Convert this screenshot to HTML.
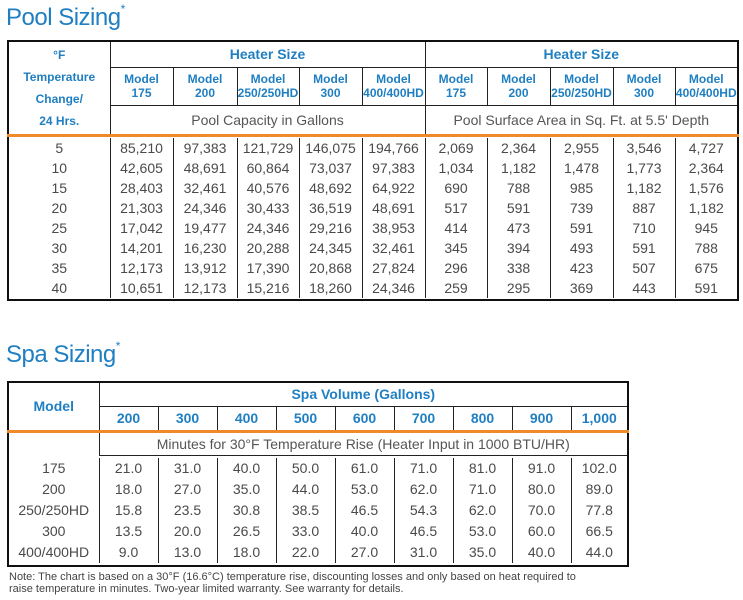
<!DOCTYPE html>
<html><head><meta charset="utf-8"><style>
body{margin:0;width:743px;height:600px;background:#fff;position:relative;overflow:hidden;font-family:"Liberation Sans",sans-serif;}
.t{position:absolute;left:7px;border-collapse:collapse;table-layout:fixed;border:2px solid #111;}
.t td{border:1px solid #222;padding:0;text-align:center;vertical-align:middle;}
.h{color:#1f7fc2;font-weight:bold;font-size:12px;line-height:14px;}
.g{color:#555;font-size:14px;}
.d td{border-top:none;border-bottom:none;color:#4a4a4a;font-size:14px;height:20px;line-height:20px;}
.s .d td{height:21px;line-height:21px;}
.o td{border-bottom:3px solid #f0892a;}
.title{position:absolute;left:6px;color:#1f7fc2;font-size:24px;letter-spacing:-0.5px;}
.title sup{font-size:12px;vertical-align:top;position:relative;top:-2px;}
.note{position:absolute;left:9px;top:571px;font-size:11px;color:#444;line-height:12px;}
</style></head><body>
<div class="title" style="top:4px">Pool Sizing<sup>*</sup></div>
<table class="t" style="top:40px;width:731px">
<colgroup><col style="width:102px"><col style="width:63px"><col style="width:64px"><col style="width:62px"><col style="width:63px"><col style="width:63px"><col style="width:62px"><col style="width:63px"><col style="width:63px"><col style="width:62px"><col style="width:63px"></colgroup>
<tr style="height:26px"><td rowspan="3" class="h" style="border-bottom:3px solid #f0892a;line-height:22px">°F<br>Temperature<br>Change/<br>24 Hrs.</td><td colspan="5" class="h" style="font-size:14px">Heater Size</td><td colspan="5" class="h" style="font-size:14px">Heater Size</td></tr>
<tr style="height:38px" class="h"><td>Model<br>175</td><td>Model<br>200</td><td>Model<br>250/250HD</td><td>Model<br>300</td><td>Model<br>400/400HD</td><td>Model<br>175</td><td>Model<br>200</td><td>Model<br>250/250HD</td><td>Model<br>300</td><td>Model<br>400/400HD</td></tr>
<tr style="height:30px" class="o"><td colspan="5" class="g">Pool Capacity in Gallons</td><td colspan="5" class="g">Pool Surface Area in Sq. Ft. at 5.5' Depth</td></tr>
<tr class="d" style="height:0"><td colspan="11" style="height:1px;line-height:1px"></td></tr>
<tr class="d"><td>5</td><td>85,210</td><td>97,383</td><td>121,729</td><td>146,075</td><td>194,766</td><td>2,069</td><td>2,364</td><td>2,955</td><td>3,546</td><td>4,727</td></tr>
<tr class="d"><td>10</td><td>42,605</td><td>48,691</td><td>60,864</td><td>73,037</td><td>97,383</td><td>1,034</td><td>1,182</td><td>1,478</td><td>1,773</td><td>2,364</td></tr>
<tr class="d"><td>15</td><td>28,403</td><td>32,461</td><td>40,576</td><td>48,692</td><td>64,922</td><td>690</td><td>788</td><td>985</td><td>1,182</td><td>1,576</td></tr>
<tr class="d"><td>20</td><td>21,303</td><td>24,346</td><td>30,433</td><td>36,519</td><td>48,691</td><td>517</td><td>591</td><td>739</td><td>887</td><td>1,182</td></tr>
<tr class="d"><td>25</td><td>17,042</td><td>19,477</td><td>24,346</td><td>29,216</td><td>38,953</td><td>414</td><td>473</td><td>591</td><td>710</td><td>945</td></tr>
<tr class="d"><td>30</td><td>14,201</td><td>16,230</td><td>20,288</td><td>24,345</td><td>32,461</td><td>345</td><td>394</td><td>493</td><td>591</td><td>788</td></tr>
<tr class="d"><td>35</td><td>12,173</td><td>13,912</td><td>17,390</td><td>20,868</td><td>27,824</td><td>296</td><td>338</td><td>423</td><td>507</td><td>675</td></tr>
<tr class="d"><td>40</td><td>10,651</td><td>12,173</td><td>15,216</td><td>18,260</td><td>24,346</td><td>259</td><td>295</td><td>369</td><td>443</td><td>591</td></tr>
<tr class="d"><td colspan="11" style="height:1px;line-height:1px"></td></tr>
</table>

<div class="title" style="top:341px">Spa Sizing<sup>*</sup></div>
<table class="t s" style="top:381px;width:620px">
<colgroup><col style="width:91px"><col style="width:59px"><col style="width:59px"><col style="width:59px"><col style="width:59px"><col style="width:59px"><col style="width:59px"><col style="width:59px"><col style="width:59px"><col style="width:57px"></colgroup>
<tr style="height:24px"><td rowspan="2" class="h" style="font-size:14px;border-bottom:3px solid #f0892a">Model</td><td colspan="9" class="h" style="font-size:14px">Spa Volume (Gallons)</td></tr>
<tr style="height:25px" class="h o"><td style="font-size:14px">200</td><td style="font-size:14px">300</td><td style="font-size:14px">400</td><td style="font-size:14px">500</td><td style="font-size:14px">600</td><td style="font-size:14px">700</td><td style="font-size:14px">800</td><td style="font-size:14px">900</td><td style="font-size:14px">1,000</td></tr>
<tr style="height:24px"><td style="border-top:none;border-bottom:none"></td><td colspan="9" class="g">Minutes for 30°F Temperature Rise (Heater Input in 1000 BTU/HR)</td></tr>
<tr class="d"><td colspan="10" style="height:2px;line-height:2px"></td></tr>
<tr class="d"><td>175</td><td>21.0</td><td>31.0</td><td>40.0</td><td>50.0</td><td>61.0</td><td>71.0</td><td>81.0</td><td>91.0</td><td>102.0</td></tr>
<tr class="d"><td>200</td><td>18.0</td><td>27.0</td><td>35.0</td><td>44.0</td><td>53.0</td><td>62.0</td><td>71.0</td><td>80.0</td><td>89.0</td></tr>
<tr class="d"><td>250/250HD</td><td>15.8</td><td>23.5</td><td>30.8</td><td>38.5</td><td>46.5</td><td>54.3</td><td>62.0</td><td>70.0</td><td>77.8</td></tr>
<tr class="d"><td>300</td><td>13.5</td><td>20.0</td><td>26.5</td><td>33.0</td><td>40.0</td><td>46.5</td><td>53.0</td><td>60.0</td><td>66.5</td></tr>
<tr class="d"><td>400/400HD</td><td>9.0</td><td>13.0</td><td>18.0</td><td>22.0</td><td>27.0</td><td>31.0</td><td>35.0</td><td>40.0</td><td>44.0</td></tr>
<tr class="d"><td colspan="10" style="height:2px;line-height:2px"></td></tr>
</table>
<div class="note">Note: The chart is based on a 30°F (16.6°C) temperature rise, discounting losses and only based on heat required to<br>raise temperature in minutes. Two-year limited warranty. See warranty for details.</div>
</body></html>
